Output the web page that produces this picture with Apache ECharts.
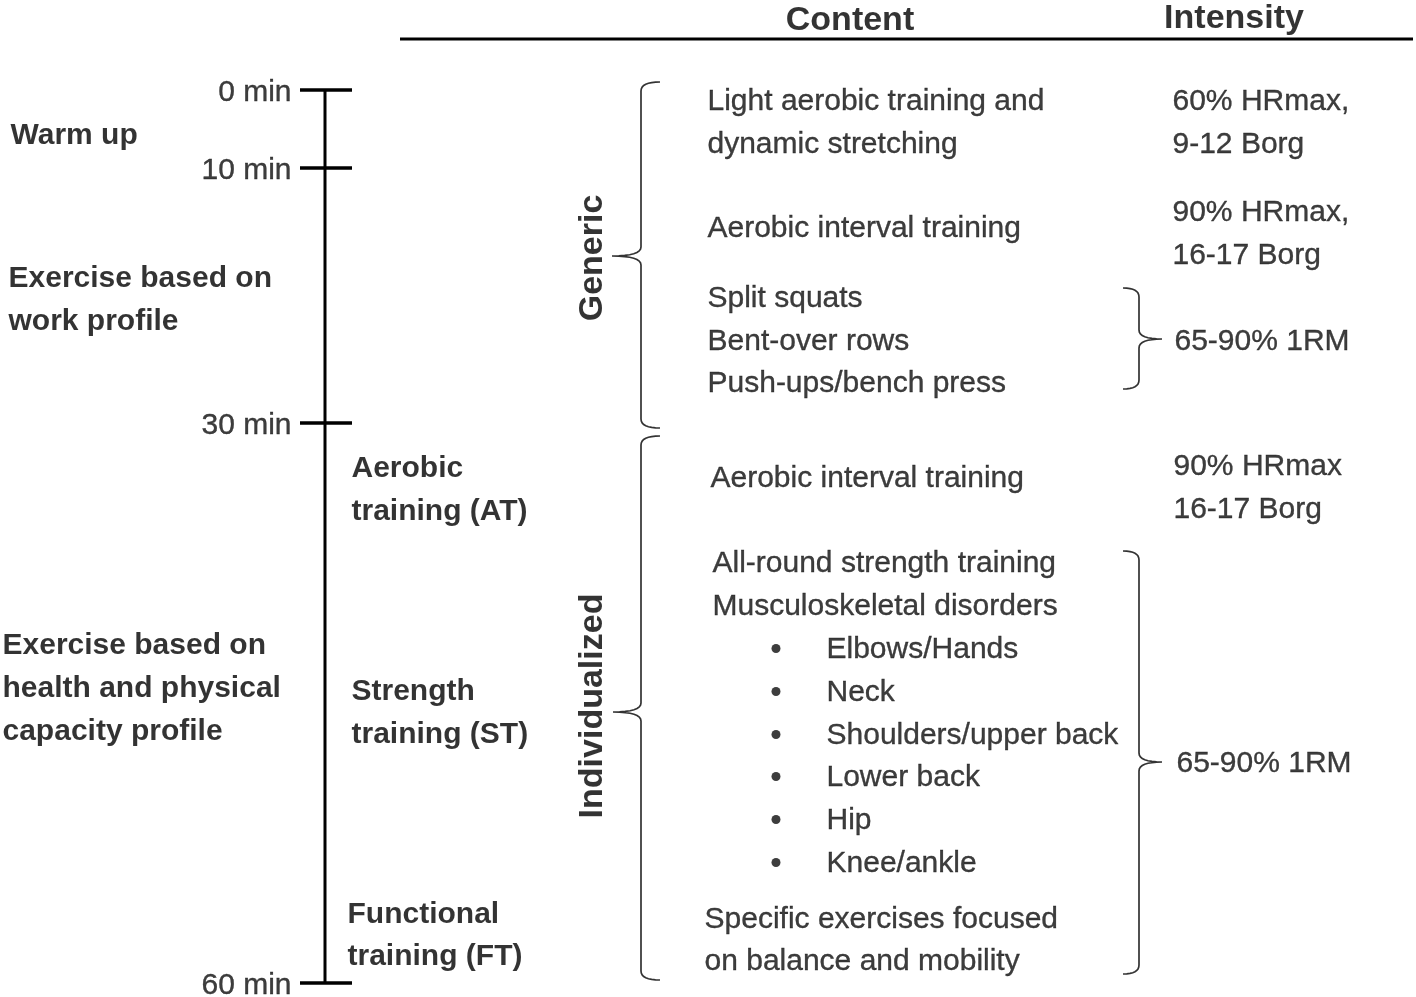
<!DOCTYPE html>
<html>
<head>
<meta charset="utf-8">
<script src="https://cdn.jsdelivr.net/npm/echarts@6/dist/echarts.min.js"></script>
<style>
html,body{margin:0;padding:0;background:#fff;}
#chart{width:1416px;height:997px;}
</style>
</head>
<body>
<div id="chart"></div>
<script>
// ---- data ----
const headers = ['Content', 'Intensity'];
const headerX = [850, 1234];
const headerY = [19, 17];

const timeMarks = ['0 min', '10 min', '30 min', '60 min'];
const timeMarkY = [90, 168, 423, 983];

const phaseLabels = ['Warm up', 'Exercise based on', 'work profile', 'Exercise based on', 'health and physical', 'capacity profile'];
const phaseY = [134, 277, 320, 644, 687, 730];
const phaseX = [10, 8, 8, 2, 2, 2];

const trainingLabels = ['Aerobic', 'training (AT)', 'Strength', 'training (ST)', 'Functional', 'training (FT)'];
const trainingY = [467, 510, 690, 733, 913, 955];
const trainingX = [351, 351, 351, 351, 347, 347];

const groupLabels = ['Generic', 'Individualized'];
const groupY = [258, 706];
const groupX = [593, 593];

const contentLines = ['Light aerobic training and', 'dynamic stretching', 'Aerobic interval training',
  'Split squats', 'Bent-over rows', 'Push-ups/bench press', 'Aerobic interval training',
  'All-round strength training', 'Musculoskeletal disorders',
  'Specific exercises focused', 'on balance and mobility'];
const contentY = [100, 143, 227, 297, 340, 382, 477, 562, 605, 918, 960];
const contentX = [707, 707, 707, 707, 707, 707, 710, 712, 712, 704, 704];

const bulletItems = ['Elbows/Hands', 'Neck', 'Shoulders/upper back', 'Lower back', 'Hip', 'Knee/ankle'];
const bulletY = [648, 691, 734, 776, 819, 862];

const intensityLines = ['60% HRmax,', '9-12 Borg', '90% HRmax,', '16-17 Borg', '65-90% 1RM',
  '90% HRmax', '16-17 Borg', '65-90% 1RM'];
const intensityY = [100, 143, 211, 254, 340, 465, 508, 762];
const intensityX = [1172, 1172, 1172, 1172, 1174, 1173, 1173, 1176];

// braces: [xSpine, yTop, yMid, yBottom, xHook, xTip]
const braces = [
  [641, 82, 256, 428, 660, 612],
  [641, 436, 712, 980, 660, 613],
  [1139, 288, 339, 389, 1123, 1162],
  [1139, 551, 762, 974, 1123, 1162]
];

// ---- layout constants ----
const FONT = 'Liberation Sans';
const TEXT_DY = 1.5;
const axisX = 325;
const tickHalf = 25;
const bulletTextX = 826;
const bulletDotX = 776;

function textItems(texts, xs, ys, dy) {
  const off = TEXT_DY + (dy || 0);
  return texts.map((t, i) => ({ name: t, value: [Array.isArray(xs) ? xs[i] : xs, ys[i] + off] }));
}

function textSeries(items, opts) {
  return {
    type: 'scatter',
    symbolSize: 1,
    silent: true,
    itemStyle: { color: 'rgba(0,0,0,0)' },
    data: items,
    label: Object.assign({
      show: true,
      formatter: '{b}',
      position: 'right',
      distance: 0,
      color: '#0d0d0d',
      textBorderColor: '#0d0d0d',
      textBorderWidth: 0.35,
      fontFamily: FONT,
      fontSize: 30
    }, opts)
  };
}

function bracePoints(b, api) {
  const [xs, yt, ym, yb, xh, xt] = b;
  const r = 9;
  const pts = [];
  function quad(p0, p1, p2) {
    for (let k = 0; k <= 8; k++) {
      const t = k / 8;
      const a = (1 - t) * (1 - t), c = 2 * (1 - t) * t, d = t * t;
      pts.push([a * p0[0] + c * p1[0] + d * p2[0], a * p0[1] + c * p1[1] + d * p2[1]]);
    }
  }
  const P = (x, y) => api.coord([x, y]);
  quad(P(xh, yt), P(xs, yt), P(xs, yt + r));
  quad(P(xs, ym - r), P(xs, ym), P(xt, ym));
  quad(P(xt, ym), P(xs, ym), P(xs, ym + r));
  quad(P(xs, yb - r), P(xs, yb), P(xh, yb));
  return pts;
}

const chart = echarts.init(document.getElementById('chart'));
chart.setOption({
  animation: false,
  backgroundColor: '#ffffff',
  textStyle: { fontFamily: FONT },
  grid: { left: 0, right: 0, top: 0, bottom: 0 },
  xAxis: { type: 'value', min: 0, max: 1416, show: false },
  yAxis: { type: 'value', min: 0, max: 997, inverse: true, show: false },
  series: [
    // header rule
    {
      type: 'line', silent: true, symbol: 'none',
      lineStyle: { color: '#000', width: 3 },
      data: [[400, 39], [1413, 39]]
    },
    // timeline spine
    {
      type: 'line', silent: true, symbol: 'none',
      lineStyle: { color: '#000', width: 3 },
      data: [[axisX, timeMarkY[0]], [axisX, timeMarkY[timeMarkY.length - 1]]]
    },
    // timeline ticks
    {
      type: 'custom', silent: true,
      data: timeMarkY.map(y => [axisX, y]),
      renderItem: function (params, api) {
        const p0 = api.coord([api.value(0) - tickHalf, api.value(1)]);
        const p1 = api.coord([api.value(0) + tickHalf + 2, api.value(1)]);
        return { type: 'line', shape: { x1: p0[0], y1: p0[1], x2: p1[0], y2: p1[1] },
          style: { stroke: '#000', lineWidth: 3.5 } };
      }
    },
    // braces
    {
      type: 'custom', silent: true,
      data: braces,
      renderItem: function (params, api) {
        const b = braces[params.dataIndex];
        return { type: 'polyline', shape: { points: bracePoints(b, api) },
          style: { stroke: '#333', lineWidth: 1.7, fill: null } };
      }
    },
    // bullets
    {
      type: 'scatter', silent: true, symbol: 'circle', symbolSize: 9,
      itemStyle: { color: '#0d0d0d' },
      data: bulletY.map(y => [bulletDotX, y + TEXT_DY - 1])
    },
    // headers
    textSeries(textItems(headers, headerX, headerY), { position: 'inside', fontSize: 34, fontWeight: 'bold', color: '#000', textBorderWidth: 0 }),
    // tick labels
    textSeries(textItems(timeMarks, axisX - 33, timeMarkY, 1.5), { position: 'left', distance: 0 }),
    // phase labels
    textSeries(textItems(phaseLabels, phaseX, phaseY), { fontWeight: 'bold', color: '#000', textBorderWidth: 0 }),
    // training labels
    textSeries(textItems(trainingLabels, trainingX, trainingY), { fontWeight: 'bold', color: '#000', textBorderWidth: 0 }),
    // group labels (rotated)
    textSeries(textItems(groupLabels, groupX, groupY, -1.5), { position: 'inside', rotate: 90, fontSize: 34, fontWeight: 'bold', color: '#000', textBorderWidth: 0 }),
    // content
    textSeries(textItems(contentLines, contentX, contentY), {}),
    textSeries(textItems(bulletItems, bulletTextX, bulletY), {}),
    // intensity
    textSeries(textItems(intensityLines, intensityX, intensityY), {})
  ]
});
</script>
</body>
</html>
